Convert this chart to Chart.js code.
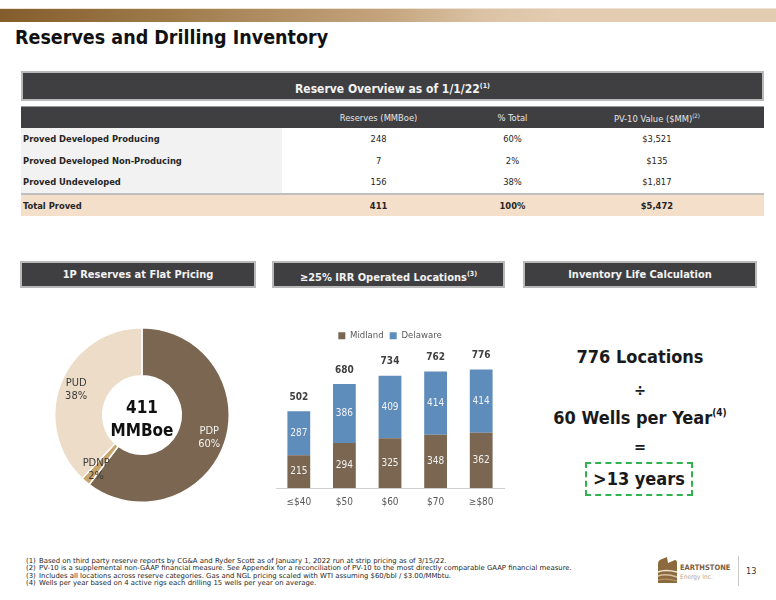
<!DOCTYPE html>
<html>
<head>
<meta charset="utf-8">
<script src="https://cdn.jsdelivr.net/npm/chart.js@4.4.1/dist/chart.umd.min.js"></script>
<style>
    html, body { margin: 0; padding: 0; background: #fff; }
    body { width: 776px; height: 600px; position: relative; overflow: hidden; font-family: "DejaVu Sans Condensed", "DejaVu Sans", sans-serif; color: #1a1a1a; }
    .abs { position: absolute; }
    .top-bar { left: 0; top: 8px; width: 776px; height: 14px; background: linear-gradient(to right, #845d2c 0%, #9f7b4b 22%, #c4a57e 50%, #dbc2a4 62%, #e3ccb1 72%, #e3cdb2 100%); border-top: 1px solid #efe2d2; box-sizing: border-box; }
    .title { left: 15px; top: 26px; font-size: 19.5px; font-weight: bold; color: #111; white-space: nowrap; }
    .head-box { background: #3f3f42; border: 2px solid #b9b9b9; box-sizing: border-box; color: #f2f2f2; font-weight: bold; text-align: center; white-space: nowrap; }
    .head-box sup { font-size: 7px; vertical-align: 5px; }
    table.reserves { position: absolute; left: 21px; top: 106px; width: 743px; border-collapse: collapse; font-size: 9.3px; }
    table.reserves td { height: 21.6px; padding: 0; text-align: center; color: #262626; }
    table.reserves td.name { text-align: left; padding-left: 2px; font-weight: bold; background: #f2f2f2; width: 259px; }
    table.reserves tr.head td { background: #3f3f42; color: #e6e6e6; height: 21px; border-top: 1px solid #9a9a9a; }
    table.reserves tr.head td.name { background: #3f3f42; }
    table.reserves tr.head sup { font-size: 6px; vertical-align: 4px; }
    table.reserves tr.total td { background: #f3dfca; font-weight: bold; border-top: 2px solid #bfbfbf; }
    .calc { left: 523px; width: 234px; text-align: center; font-weight: bold; color: #1a1a1a; white-space: nowrap; }
    .calc sup { font-size: 10px; vertical-align: 8px; }
    .years-box { left: 585px; top: 462px; width: 108px; height: 34px; border: 2px dashed #2fb34c; box-sizing: border-box; text-align: center; line-height: 30px; font-size: 18px; font-weight: bold; }
    .notes { left: 26px; top: 558px; font-family: "DejaVu Sans", sans-serif; font-size: 6.9px; line-height: 7.4px; color: #262626; white-space: nowrap; }
    .notes span { display: inline-block; width: 13px; }
    .center-label { left: 92px; top: 396px; width: 100px; text-align: center; font-size: 17px; font-weight: bold; line-height: 23px; color: #111; }
</style>
</head>
<body>
<div class="abs top-bar"></div>
<div class="abs title">Reserves and Drilling Inventory</div>

<div class="abs head-box" style="left:21px; top:71px; width:743px; height:30px; line-height:26px; font-size:12px;">Reserve Overview as of 1/1/22<sup>(1)</sup></div>
<table class="reserves" id="reserveTable"></table>

<div class="abs head-box" style="left:20px; top:261px; width:236px; height:27px; line-height:23px; font-size:11px;">1P Reserves at Flat Pricing</div>
<div class="abs head-box" style="left:272px; top:261px; width:233px; height:27px; line-height:23px; font-size:11px;">≥25% IRR Operated Locations<sup>(3)</sup></div>
<div class="abs head-box" style="left:523px; top:261px; width:234px; height:27px; line-height:23px; font-size:11px;">Inventory Life Calculation</div>

<div class="abs" style="left:22px; top:300px; width:240px; height:224px;"><canvas id="reservesChart"></canvas></div>
<div class="abs center-label">411<br>MMBoe</div>

<div class="abs" style="left:262px; top:322px; width:258px; height:198px;"><canvas id="locationsChart"></canvas></div>

<div class="abs calc" style="top:346px; font-size:18px;">776 Locations</div>
<div class="abs calc" style="top:381px; font-size:16px;">÷</div>
<div class="abs calc" style="top:407px; font-size:18px;">60 Wells per Year<sup>(4)</sup></div>
<div class="abs calc" style="top:437px; font-size:16px;">=</div>
<div class="abs years-box">&gt;13 years</div>

<div class="abs notes">
    <div><span>(1)</span>Based on third party reserve reports by CG&amp;A and Ryder Scott as of January 1, 2022 run at strip pricing as of 3/15/22.</div>
    <div><span>(2)</span>PV-10 is a supplemental non-GAAP financial measure. See Appendix for a reconciliation of PV-10 to the most directly comparable GAAP financial measure.</div>
    <div><span>(3)</span>Includes all locations across reserve categories. Gas and NGL pricing scaled with WTI assuming $60/bbl / $3.00/MMbtu.</div>
    <div><span>(4)</span>Wells per year based on 4 active rigs each drilling 15 wells per year on average.</div>
</div>

<svg class="abs" style="left:655px; top:555px;" width="82" height="32" viewBox="0 0 82 32">
    <path d="M3 28 L3 9 Q3 5 7 4 L12 2 L13 8 L20 5 Q22 5 22 8 L22 28 Z" fill="#8a6a3e"/>
    <path d="M3 17 Q10 14 22 17" stroke="#f3e6d3" stroke-width="1.6" fill="none"/>
    <path d="M3 21 Q11 18 22 22" stroke="#d8c0a0" stroke-width="1.6" fill="none"/>
    <path d="M3 25 Q12 23 22 26" stroke="#b99466" stroke-width="1.2" fill="none"/>
    <text x="25" y="15" font-family="DejaVu Sans Condensed" font-size="7.5" font-weight="bold" fill="#7d6040">EARTHSTONE</text>
    <text x="25" y="24" font-family="DejaVu Sans Condensed" font-size="6.5" fill="#b7a58f">Energy Inc.</text>
</svg>
<div class="abs" style="left:738px; top:556px; width:1px; height:30px; background:#c8c8c8;"></div>
<div class="abs" style="left:746px; top:566px; font-size:9px; color:#333;">13</div>

<script>
    // данные таблицы запасов
    const reserveCategories = ['Proved Developed Producing', 'Proved Developed Non-Producing', 'Proved Undeveloped'];
    const reserveShortNames = ['PDP', 'PDNP', 'PUD'];
    const reservesMMBoe = [248, 7, 156];
    const reservesPctTotal = ['60%', '2%', '38%'];
    const pv10Values = ['$3,521', '$135', '$1,817'];
    const totalRow = ['Total Proved', '411', '100%', '$5,472'];

    // данные по локациям
    const priceDecks = ['≤$40', '$50', '$60', '$70', '≥$80'];
    const midlandLocations = [215, 294, 325, 348, 362];
    const delawareLocations = [287, 386, 409, 414, 414];

    const brown = '#7a6651';
    const tan = '#c9a46c';
    const beige = '#eddcc7';
    const blue = '#5f8dbb';

    Chart.defaults.font.family = '"DejaVu Sans Condensed", "DejaVu Sans", sans-serif';
    Chart.defaults.animation = false;

    function buildTable() {
        const table = document.getElementById('reserveTable');
        let html = '<tr class="head"><td class="name"></td><td>Reserves (MMBoe)</td><td>% Total</td><td>PV-10 Value ($MM)<sup>(2)</sup></td></tr>';
        reserveCategories.forEach((name, i) => {
            html += `<tr><td class="name">${name}</td><td>${reservesMMBoe[i]}</td><td>${reservesPctTotal[i]}</td><td>${pv10Values[i]}</td></tr>`;
        });
        html += `<tr class="total"><td class="name">${totalRow[0]}</td><td>${totalRow[1]}</td><td>${totalRow[2]}</td><td>${totalRow[3]}</td></tr>`;
        table.innerHTML = html;
    }

    // подписи внутри кольца, чуть ближе к внешнему краю
    const sliceLabels = {
        id: 'sliceLabels',
        afterDatasetsDraw(chart) {
            const ctx = chart.ctx;
            const meta = chart.getDatasetMeta(0);
            ctx.save();
            ctx.font = '11px "DejaVu Sans Condensed", sans-serif';
            ctx.textAlign = 'center';
            ctx.textBaseline = 'middle';
            meta.data.forEach((arc, i) => {
                const p = arc.getProps(['x', 'y', 'startAngle', 'endAngle', 'innerRadius', 'outerRadius']);
                const angle = (p.startAngle + p.endAngle) / 2;
                const r = p.innerRadius + 0.66 * (p.outerRadius - p.innerRadius);
                const x = p.x + Math.cos(angle) * r;
                const y = p.y + Math.sin(angle) * r;
                ctx.fillStyle = i === 0 ? '#f4f1ee' : '#3a3a3a';
                ctx.fillText(reserveShortNames[i], x, y - 6);
                ctx.fillText(reservesPctTotal[i], x, y + 7);
            });
            ctx.restore();
        }
    };

    // значения на столбцах и итоги сверху
    const barLabels = {
        id: 'barLabels',
        afterDatasetsDraw(chart) {
            const ctx = chart.ctx;
            ctx.save();
            ctx.textAlign = 'center';
            ctx.textBaseline = 'middle';
            ctx.font = '10px "DejaVu Sans Condensed", sans-serif';
            ctx.fillStyle = '#f2f2f2';
            chart.data.datasets.forEach((ds, d) => {
                chart.getDatasetMeta(d).data.forEach((bar, i) => {
                    ctx.fillText(ds.data[i], bar.x, (bar.y + bar.base) / 2);
                });
            });
            ctx.font = 'bold 10px "DejaVu Sans Condensed", sans-serif';
            ctx.fillStyle = '#404040';
            const top = chart.getDatasetMeta(chart.data.datasets.length - 1);
            top.data.forEach((bar, i) => {
                ctx.fillText(midlandLocations[i] + delawareLocations[i], bar.x, bar.y - 14);
            });
            ctx.restore();
        }
    };

    function createReservesChart() {
        return new Chart(document.getElementById('reservesChart'), {
            type: 'doughnut',
            data: {
                labels: reserveShortNames,
                datasets: [{
                    data: reservesMMBoe,
                    backgroundColor: [brown, tan, beige],
                    borderColor: '#ffffff',
                    borderWidth: 1.5
                }]
            },
            options: {
                responsive: true,
                maintainAspectRatio: false,
                cutout: '45%',
                layout: { padding: { top: 26, bottom: 20, left: 32, right: 32 } },
                plugins: {
                    legend: { display: false },
                    tooltip: { enabled: false }
                }
            },
            plugins: [sliceLabels]
        });
    }

    function createLocationsChart() {
        return new Chart(document.getElementById('locationsChart'), {
            type: 'bar',
            data: {
                labels: priceDecks,
                datasets: [
                    { label: 'Midland', data: midlandLocations, backgroundColor: brown, barPercentage: 0.5, categoryPercentage: 1 },
                    { label: 'Delaware', data: delawareLocations, backgroundColor: blue, barPercentage: 0.5, categoryPercentage: 1 }
                ]
            },
            options: {
                responsive: true,
                maintainAspectRatio: false,
                layout: { padding: { left: 14, right: 16, top: 3, bottom: 4 } },
                plugins: {
                    legend: {
                        position: 'top',
                        labels: {
                            boxWidth: 7,
                            boxHeight: 7,
                            padding: 6,
                            color: '#595959',
                            font: { size: 9.5 }
                        }
                    },
                    tooltip: { enabled: false }
                },
                scales: {
                    x: {
                        stacked: true,
                        grid: { display: false, drawTicks: false },
                        border: { color: '#d0d0d0' },
                        ticks: { color: '#595959', font: { size: 10 }, padding: 8 }
                    },
                    y: {
                        stacked: true,
                        display: false,
                        min: 0,
                        max: 900
                    }
                }
            },
            plugins: [barLabels]
        });
    }

    buildTable();
    createReservesChart();
    createLocationsChart();
</script>
</body>
</html>
